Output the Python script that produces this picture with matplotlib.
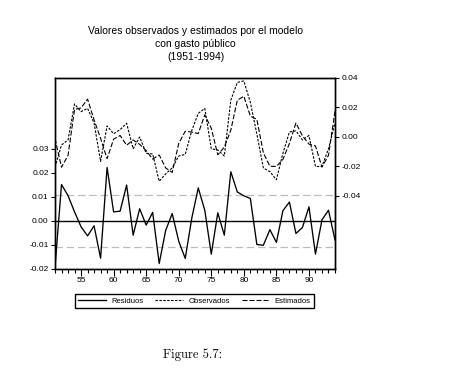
import matplotlib
matplotlib.use("Agg")
import matplotlib.pyplot as plt
from matplotlib.ticker import FixedLocator, FixedFormatter, MultipleLocator
import numpy as np

plt.rcParams['font.family'] = ['Liberation Sans', 'DejaVu Sans']

years = list(range(1951, 1995))

residuos = [-0.0195, 0.0151, 0.0105, 0.0037, -0.0025, -0.0063, -0.0021, -0.0156, 0.0222, 0.0037,
            0.0040, 0.0149, -0.0060, 0.0050, -0.0018, 0.0035, -0.0178, -0.0040, 0.0030, -0.0085,
            -0.0157, 0.0010, 0.0137, 0.0044, -0.0139, 0.0033, -0.0060, 0.0204, 0.0120, 0.0104,
            0.0093, -0.0099, -0.0102, -0.0037, -0.0090, 0.0042, 0.0078, -0.0053, -0.0028, 0.0058,
            -0.0139, 0.0004, 0.0044, -0.0080]

observados = [-0.0205, -0.0054, -0.0020, 0.0224, 0.0172, 0.0194, 0.0095, -0.0165, 0.0075, 0.0022,
              0.0050, 0.0093, -0.0080, 0.0000, -0.0110, -0.0115, -0.0300, -0.0250, -0.0210, -0.0129,
              -0.0118, 0.0043, 0.0160, 0.0194, -0.0080, -0.0088, -0.0129, 0.0250, 0.0370, 0.0380,
              0.0235, 0.0020, -0.0210, -0.0235, -0.0290, -0.0110, 0.0034, 0.0042, -0.0020, 0.0010,
              -0.0200, -0.0200, -0.0080, 0.0095]

estimados = [-0.0010, -0.0205, -0.0125, 0.0187, 0.0197, 0.0257, 0.0116, -0.0009, -0.0147, -0.0015,
             0.0010, -0.0056, -0.0020, -0.0050, -0.0092, -0.0150, -0.0122, -0.0210, -0.0240, -0.0044,
             0.0039, 0.0033, 0.0023, 0.0150, 0.0059, -0.0121, -0.0069, 0.0046, 0.0250, 0.0276,
             0.0142, 0.0119, -0.0108, -0.0198, -0.0200, -0.0152, -0.0044, 0.0095, 0.0008, -0.0048,
             -0.0061, -0.0204, -0.0124, 0.0175]

left_ticks = [-0.02, -0.01, 0.00, 0.01, 0.02, 0.03]
left_labels = ["-0.02", "-0.01", "0.00", "0.01", "0.02", "0.03"]
right_ticks = [-0.04, -0.02, 0.00, 0.02, 0.04]
right_labels = ["-0.04", "-0.02", "0.00", "0.02", "0.04"]
x_ticks = [1955, 1960, 1965, 1970, 1975, 1980, 1985, 1990]
x_labels = ["55", "60", "65", "70", "75", "80", "85", "90"]
std_err = 0.0108

title = "Valores observados y estimados por el modelo\ncon gasto público\n(1951-1994)"
legend_labels = ["Residuos", "Observados", "Estimados"]
caption = "Figure 5.7:"

W, H = 449, 380
fig = plt.figure(figsize=(W / 100, H / 100), dpi=100)
L, R, T, B = 55, 335, 78, 269
ax = fig.add_axes([L / W, 1 - B / H, (R - L) / W, (B - T) / H])
ax2 = ax.twinx()

# residuals on left axis
ax.axhline(0, color='black', lw=1.0, zorder=2)
ax.axhline(std_err, color='#bdbdbd', lw=0.9, dashes=(6, 3), zorder=1)
ax.axhline(-std_err, color='#bdbdbd', lw=0.9, dashes=(6, 3), zorder=1)
h1, = ax.plot(years, residuos, color='black', lw=0.95, zorder=3)

h2, = ax2.plot(years, observados, color='black', lw=0.8, dashes=(2.2, 1.3))
h3, = ax2.plot(years, estimados, color='black', lw=0.8, dashes=(4.5, 1.8))

ax.set_xlim(1951, 1994)
ax.set_ylim(-0.0201, 0.0595)
ax2.set_ylim(-0.0895, 0.0400)

ax.yaxis.set_major_locator(FixedLocator(left_ticks))
ax.yaxis.set_major_formatter(FixedFormatter(left_labels))
ax2.yaxis.set_major_locator(FixedLocator(right_ticks))
ax2.yaxis.set_major_formatter(FixedFormatter(right_labels))
ax.xaxis.set_major_locator(FixedLocator(x_ticks))
ax.xaxis.set_major_formatter(FixedFormatter(x_labels))
ax.xaxis.set_minor_locator(MultipleLocator(1))

for a in (ax, ax2):
    for s in a.spines.values():
        s.set_linewidth(1.0)
        s.set_color('black')
ax.tick_params(axis='y', direction='out', length=3, width=0.8, labelsize=6, pad=1.5)
ax2.tick_params(axis='y', direction='out', length=3, width=0.8, labelsize=6, pad=1.5)
ax.tick_params(axis='x', which='major', direction='out', length=5, width=0.8, labelsize=6, pad=1)
ax.tick_params(axis='x', which='minor', direction='out', length=3, width=0.8)

fig.text(195.5 / W, 1 - 44 / H, title, ha='center', va='center', fontsize=7.5, linespacing=1.38)

leg = fig.legend([h1, h2, h3], legend_labels, loc='center', ncol=3,
                 bbox_to_anchor=(194.5 / W, 1 - 301.3 / H), fontsize=5.5,
                 frameon=True, fancybox=False, edgecolor='black', framealpha=1,
                 handlelength=3.6, handletextpad=0.7, columnspacing=1.6,
                 borderpad=0.45, borderaxespad=0)
leg.get_frame().set_linewidth(1.0)

fig.text(193 / W, 1 - 355 / H, caption, ha='center', va='center', fontsize=9,
         family=['cmr10', 'DejaVu Serif'])

fig.savefig("out.png", dpi=100)
